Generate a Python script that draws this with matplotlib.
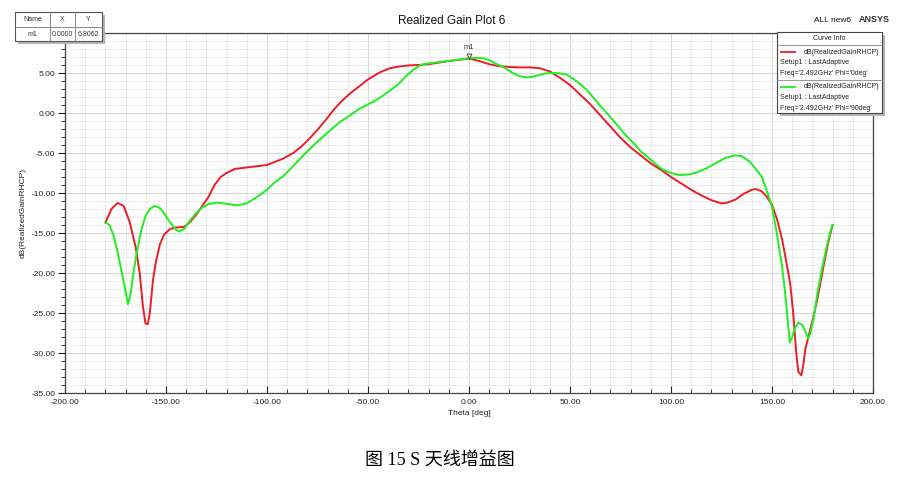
import matplotlib.pyplot as plt
from matplotlib.patches import Rectangle
from matplotlib.lines import Line2D
from matplotlib.ticker import MultipleLocator, FormatStrFormatter, FuncFormatter

plt.rcParams['font.family'] = ['Liberation Sans', 'DejaVu Sans']

# Phi = 0deg (red)
theta_phi0 = [-180, -177, -174, -171, -168, -165, -163, -161.5, -160.2, -159, -158, -156.5, -155,
              -153, -151, -148, -145, -141, -138, -135, -132, -129, -126, -123, -120, -116, -110,
              -100, -92, -87, -83, -79, -75, -71, -67, -63, -58.6, -54, -50, -44, -39, -35, -30,
              -25, -20, -15, -10, -5, 0, 5, 10, 15, 20, 25, 30, 35, 40, 45, 50, 55, 60, 65, 70,
              75, 80, 85, 90, 95, 100, 105, 110, 115, 120, 125, 128, 132, 136, 140, 142, 145,
              147.5, 150, 152.5, 155, 157, 159, 160.5, 162, 163, 164.5, 165.5, 166.5, 168, 170,
              172, 174, 176, 178, 180]
gain_phi0 = [-13.7, -12.0, -11.25, -11.6, -13.6, -16.8, -20.0, -24.0, -26.3, -26.4, -25.0, -21.0,
             -18.6, -16.4, -15.2, -14.5, -14.3, -14.25, -13.6, -12.7, -11.6, -10.5, -9.0, -8.0,
             -7.5, -7.0, -6.8, -6.5, -5.7, -5.0, -4.2, -3.2, -2.1, -0.9, 0.4, 1.5, 2.5, 3.4, 4.2,
             5.1, 5.6, 5.8, 5.95, 6.0, 6.1, 6.3, 6.5, 6.65, 6.8062, 6.5, 6.1, 5.85, 5.75, 5.7,
             5.7, 5.6, 5.2, 4.4, 3.5, 2.3, 1.1, -0.3, -1.7, -3.1, -4.3, -5.3, -6.3, -7.1, -8.0,
             -8.8, -9.6, -10.3, -10.9, -11.3, -11.2, -10.8, -10.1, -9.6, -9.5, -9.8, -10.5,
             -11.5, -13.3, -15.8, -18.5, -21.3, -25.0, -30.0, -32.3, -32.8, -31.5, -29.5, -28.0,
             -26.0, -23.8, -21.2, -18.5, -16.0, -14.0]

# Phi = 90deg (green)
theta_phi90 = [-180, -178, -176, -174, -172, -170, -168.8, -167.5, -166, -164, -162, -160, -158,
               -155.5, -153, -151, -149, -147, -145, -143.5, -141, -138, -135, -132, -129, -125,
               -120, -115, -110, -105, -100, -96.6, -92, -88, -84, -80, -76, -72, -68, -63.5,
               -59, -55, -51, -47, -43, -38.7, -35, -30.4, -27, -24, -20, -17, -12, -7, -3, 1,
               4, 7, 10, 13, 17, 21, 25, 28.5, 31, 34, 38, 41.7, 45, 48.4, 52, 55, 58.3, 62, 65,
               68.2, 72, 75, 78, 82, 85, 88, 92, 96, 100, 104, 108, 112, 117.7, 122, 127, 131.7,
               135, 139, 142, 145, 147.5, 150, 152.5, 155, 156.5, 158, 158.8, 160, 161.5, 163,
               165, 166.5, 168, 169, 170.5, 172.5, 175, 177, 179, 180]
gain_phi90 = [-13.7, -14.0, -15.3, -17.3, -19.8, -22.3, -23.9, -22.5, -19.8, -16.8, -14.4, -12.8,
              -12.0, -11.6, -11.9, -12.5, -13.3, -14.0, -14.6, -14.8, -14.5, -13.4, -12.5, -11.8,
              -11.4, -11.2, -11.35, -11.55, -11.3, -10.5, -9.6, -8.75, -7.9, -6.9, -5.8, -4.8,
              -3.8, -2.9, -2.0, -1.05, -0.3, 0.4, 0.95, 1.45, 2.1, 2.9, 3.6, 4.8, 5.5, 6.0, 6.2,
              6.3, 6.45, 6.6, 6.75, 6.85, 6.9, 6.85, 6.6, 6.2, 5.75, 5.1, 4.6, 4.45, 4.5, 4.7,
              4.95, 5.0, 4.95, 4.8, 4.2, 3.6, 2.9, 1.8, 0.9, 0.0, -1.1, -2.0, -2.9, -3.9, -4.8,
              -5.4, -6.3, -7.1, -7.5, -7.75, -7.7, -7.5, -6.9, -6.3, -5.6, -5.3, -5.4, -6.1,
              -7.0, -8.0, -9.8, -11.7, -15.2, -19.2, -22.5, -26.5, -28.7, -28.0, -26.8, -26.2,
              -26.5, -27.3, -28.2, -27.5, -25.8, -22.5, -19.2, -16.8, -14.7, -14.0]

marker_x, marker_y = 0.0, 6.8062

W, H = 910, 482
fig = plt.figure(figsize=(W / 100, H / 100), dpi=100)


def fx(x):
    return x / W


def fy(y):
    return 1 - y / H


ax = fig.add_axes([fx(65), fy(393), fx(873) - fx(65), fy(33) - fy(393)])
ax.plot(theta_phi0, gain_phi0, color='#ee1c25', lw=1.4, zorder=3)
ax.plot(theta_phi90, gain_phi90, color='#1ef01e', lw=1.4, zorder=3)

# marker m1
ax.plot([marker_x], [marker_y + 0.35], marker='v', ms=3.5, mfc='white', mec='#444444',
        mew=0.7, zorder=4)
ax.text(marker_x, marker_y + 0.9, 'm1', fontsize=5.5, ha='center', va='bottom', color='#333333')

ax.set_xlim(-200, 200)
ax.set_ylim(-35, 10)
ax.xaxis.set_major_locator(MultipleLocator(50))
ax.xaxis.set_minor_locator(MultipleLocator(10))
ax.yaxis.set_major_locator(MultipleLocator(5))
ax.yaxis.set_minor_locator(MultipleLocator(1))
ax.xaxis.set_major_formatter(FormatStrFormatter('%.2f'))
# top label (10.00) sits under the marker table in the original, so leave it blank
ax.yaxis.set_major_formatter(FuncFormatter(lambda v, p: '' if v > 9 else '%.2f' % v))
ax.grid(which='major', color='#d6d6d6', lw=0.8)
ax.grid(which='minor', color='#ececec', lw=0.7)
ax.set_axisbelow(True)
ax.tick_params(axis='x', which='both', direction='in', labelsize=6, colors='#222222', pad=4)
ax.tick_params(axis='y', which='both', direction='out', labelsize=6, colors='#222222', pad=2)
ax.tick_params(which='major', length=5, width=0.8)
ax.tick_params(which='minor', length=3, width=0.6)
for s in ax.spines.values():
    s.set_color('#444444')
    s.set_linewidth(0.9)

ax.set_xlabel('Theta [deg]', fontsize=6, color='#222222', labelpad=3)
ax.set_ylabel('dB(RealizedGainRHCP)', fontsize=6, color='#222222', labelpad=3)

# title and tags
fig.text(fx(452), fy(21), 'Realized Gain Plot 6', fontsize=8.5, ha='center', va='center',
         color='#111111')
fig.text(fx(832), fy(20), 'ALL new6', fontsize=6, ha='center', va='center', color='#111111')
fig.text(fx(874), fy(19), 'ANSYS', fontsize=6.5, ha='center', va='center', color='#333333',
         fontweight='bold')

# marker table (top left)
tx0, tx1, ty0, ty1 = 15, 102, 12, 41
fig.patches.append(Rectangle((fx(tx0 + 3), fy(ty1 + 3)), fx(tx1) - fx(tx0), fy(ty0) - fy(ty1),
                             transform=fig.transFigure, facecolor='#b5b5b5', edgecolor='none',
                             zorder=5))
fig.patches.append(Rectangle((fx(tx0), fy(ty1)), fx(tx1) - fx(tx0), fy(ty0) - fy(ty1),
                             transform=fig.transFigure, facecolor='white', edgecolor='#555555',
                             lw=0.8, zorder=6))
for xv in (50, 75):
    fig.lines.append(Line2D([fx(xv), fx(xv)], [fy(ty0), fy(ty1)], transform=fig.transFigure,
                            color='#777777', lw=0.6, zorder=7))
fig.lines.append(Line2D([fx(tx0), fx(tx1)], [fy(27), fy(27)], transform=fig.transFigure,
                        color='#777777', lw=0.6, zorder=7))
for cx, hdr, val in ((32.5, 'Name', 'm1'), (62.5, 'X', '%.4f' % marker_x),
                     (88.5, 'Y', '%.4f' % marker_y)):
    fig.text(fx(cx), fy(19.5), hdr, fontsize=5, ha='center', va='center', color='#333333', zorder=8)
    fig.text(fx(cx), fy(34), val, fontsize=5, ha='center', va='center', color='#333333', zorder=8)

# curve info box (top right)
bx0, bx1, by0, by1 = 777, 882, 32, 113
fig.patches.append(Rectangle((fx(bx0 + 3), fy(by1 + 3)), fx(bx1) - fx(bx0), fy(by0) - fy(by1),
                             transform=fig.transFigure, facecolor='#b5b5b5', edgecolor='none',
                             zorder=5))
fig.patches.append(Rectangle((fx(bx0), fy(by1)), fx(bx1) - fx(bx0), fy(by0) - fy(by1),
                             transform=fig.transFigure, facecolor='white', edgecolor='#444444',
                             lw=0.8, zorder=6))
fig.text(fx((bx0 + bx1) / 2), fy(39), 'Curve Info', fontsize=5, ha='center', va='center',
         color='#222222', zorder=8)
for yv in (45, 79.5):
    fig.lines.append(Line2D([fx(bx0), fx(bx1)], [fy(yv), fy(yv)], transform=fig.transFigure,
                            color='#888888', lw=0.6, zorder=7))
for y0, col, phi in ((52, '#ee1c25', '0deg'), (87, '#1ef01e', '90deg')):
    fig.lines.append(Line2D([fx(781), fx(795)], [fy(y0), fy(y0)], transform=fig.transFigure,
                            color=col, lw=1.3, zorder=7))
    fig.text(fx(879), fy(y0), 'dB(RealizedGainRHCP)', fontsize=5, ha='right', va='center',
             color='#222222', zorder=8)
    fig.text(fx(780), fy(y0 + 10.7), 'Setup1 : LastAdaptive', fontsize=5, ha='left',
             va='center', color='#222222', zorder=8)
    fig.text(fx(780), fy(y0 + 21.3), "Freq='2.492GHz' Phi='%s'" % phi, fontsize=5, ha='left',
             va='center', color='#222222', zorder=8)

# caption
fig.text(fx(440), fy(460), '图 15 S 天线增益图', fontsize=13, ha='center', va='center',
         family=['Liberation Serif', 'Noto Sans CJK SC'], color='black')

fig.savefig('out.png', dpi=100, facecolor='white')
